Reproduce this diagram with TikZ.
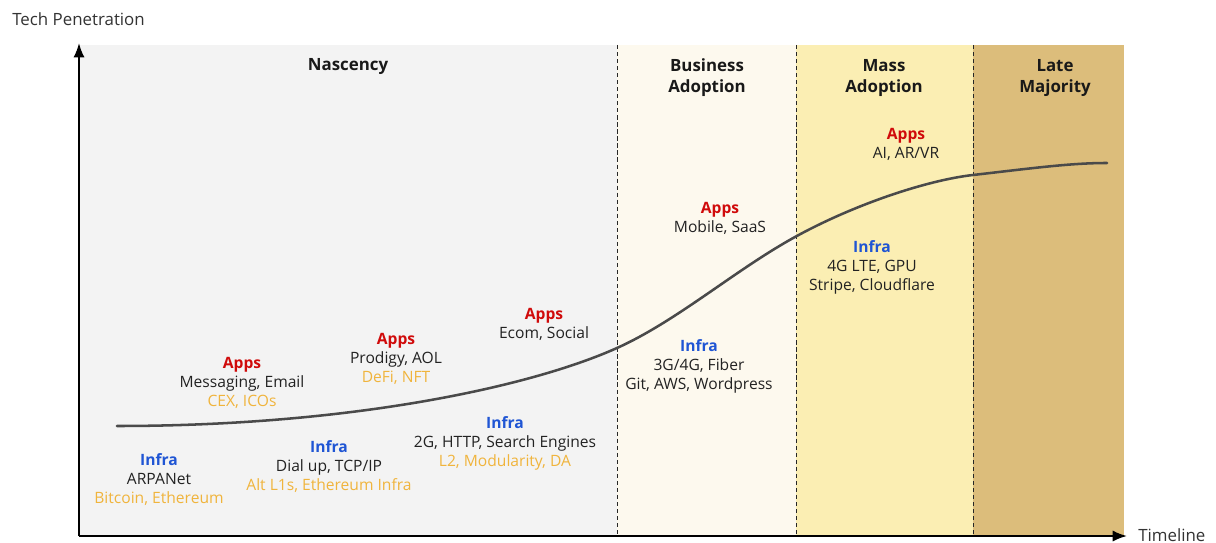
\documentclass[tikz,border=0pt]{standalone}
\usepackage{fontspec}
\setmainfont{Open Sans}
\usetikzlibrary{arrows.meta}

\definecolor{nascgray}{HTML}{F3F3F3}
\definecolor{bizcream}{HTML}{FDF9EE}
\definecolor{masspale}{HTML}{FBEEB3}
\definecolor{lategold}{HTML}{DCBD7B}
\definecolor{appsred}{HTML}{D00A0A}
\definecolor{infrablue}{HTML}{1F55D4}
\definecolor{cryptoamber}{HTML}{F0B43C}
\definecolor{curvegray}{HTML}{4A4A4A}
\definecolor{inktext}{HTML}{222222}

% line colours inside the stage labels
\newcommand{\appsline}[1]{{\bfseries\color{appsred}#1}}
\newcommand{\infraline}[1]{{\bfseries\color{infrablue}#1}}
\newcommand{\cryptoline}[1]{{\color{cryptoamber}#1}}

\begin{document}
\begin{tikzpicture}[
    x=0.025cm, y=-0.025cm,
    >=Latex,
    axis/.style={line width=1.4pt, -{Latex[length=3.6mm,width=2.8mm]}},
    divider/.style={densely dashed, line width=0.6pt, black!85},
    phasetitle/.style={align=center, font=\bfseries\fontsize{12}{14.9}\selectfont, text=black!90},
    stage/.style={align=center, font=\fontsize{11.1}{13.5}\selectfont, text=inktext, inner sep=0pt},
    axislabel/.style={font=\fontsize{12}{14}\selectfont, text=black!80, inner sep=0pt}
    ]

    \useasboundingbox (0,0) rectangle (1216,543);

    % Phase backgrounds
    \fill[nascgray] (79,45) rectangle (617,536);
    \fill[bizcream] (617,45) rectangle (796,536);
    \fill[masspale] (796,45) rectangle (973,536);
    \fill[lategold] (973,45) rectangle (1124,536);

    % Phase borders
    \foreach \xb in {617,796,973}
      \draw[divider] (\xb,45) -- (\xb,536);

    % Phase titles
    \node[phasetitle] (nascency) at (348,67) {Nascency};
    \node[phasetitle] (business) at (707,78) {Business\\Adoption};
    \node[phasetitle] (mass) at (884,78) {Mass\\Adoption};
    \node[phasetitle] (late) at (1055,78) {Late\\Majority};

    % Axes
    \coordinate (origin) at (79,536);
    \coordinate (ytop) at (79,43);
    \coordinate (xend) at (1127,536);
    \draw[axis] (origin) -- (ytop);
    \draw[axis] (origin) -- (xend);
    \node[axislabel, anchor=west] (ylabel) at (12,19) {Tech Penetration};
    \node[axislabel, anchor=west] (xlabel) at (1138,535) {Timeline};

    % Adoption curve (S-shape)
    \draw[curvegray, line width=1.8pt, line cap=round]
      (117,426) .. controls (350,426) and (530,387) .. (617,348)
                .. controls (677,321) and (735,270) .. (795,237)
                .. controls (855,204) and (928,180) .. (973,175)
                .. controls (1030,168.5) and (1070,163) .. (1107,163);

    % Nascency labels
    \node[stage] (infra1) at (159,480) {\infraline{Infra}\\ARPANet\\\cryptoline{Bitcoin, Ethereum}};
    \node[stage] (apps1) at (242,383) {\appsline{Apps}\\Messaging, Email\\\cryptoline{CEX, ICOs}};
    \node[stage] (infra2) at (329,467) {\infraline{Infra}\\Dial up, TCP/IP\\\cryptoline{Alt L1s, Ethereum Infra}};
    \node[stage] (apps2) at (396,359) {\appsline{Apps}\\Prodigy, AOL\\\cryptoline{DeFi, NFT}};
    \node[stage] (infra3) at (505,443) {\infraline{Infra}\\2G, HTTP, Search Engines\\\cryptoline{L2, Modularity, DA}};
    \node[stage] (apps3) at (544,324) {\appsline{Apps}\\Ecom, Social};

    % Business adoption labels
    \node[stage] (apps4) at (720,218) {\appsline{Apps}\\Mobile, SaaS};
    \node[stage] (infra4) at (699,366) {\infraline{Infra}\\3G/4G, Fiber\\Git, AWS, Wordpress};

    % Mass adoption labels
    \node[stage] (infra5) at (872,267) {\infraline{Infra}\\4G LTE, GPU\\Stripe, Cloudflare};
    \node[stage] (apps5) at (906,144) {\appsline{Apps}\\AI, AR/VR};

\end{tikzpicture}
\end{document}
